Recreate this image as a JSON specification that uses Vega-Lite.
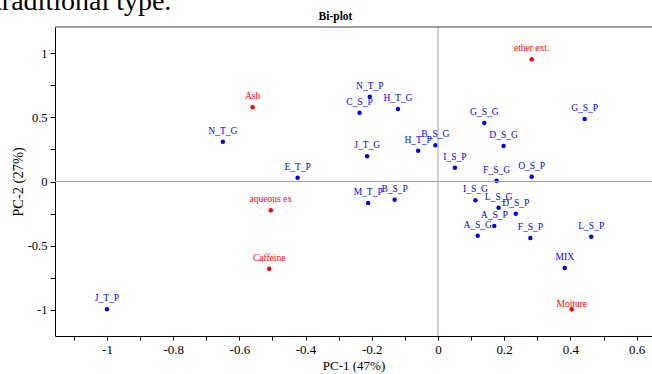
{
  "$schema": "https://vega.github.io/schema/vega-lite/v6.json",
  "autosize": {"type": "none"},
  "padding": {"left": 55, "top": 27, "right": 0, "bottom": 38},
  "width": 597,
  "height": 309,
  "background": "white",
  "config": {
    "view": {"stroke": null},
    "font": "Liberation Serif"
  },
  "title": {
    "text": "Bi-plot",
    "font": "Liberation Serif",
    "fontSize": 11.5,
    "fontWeight": "bold",
    "color": "black",
    "anchor": "middle",
    "dx": -18,
    "offset": -35
  },
  "data": {
    "values": [
      {"name": "ether ext.", "type": "variable", "pc1": 0.283, "pc2": 0.955},
      {"name": "Ash", "type": "variable", "pc1": -0.56, "pc2": 0.58},
      {"name": "aqueous ex", "type": "variable", "pc1": -0.505, "pc2": -0.225},
      {"name": "Caffeine", "type": "variable", "pc1": -0.51, "pc2": -0.681},
      {"name": "Moiture", "type": "variable", "pc1": 0.404, "pc2": -0.998},
      {"name": "J_T_P", "type": "sample", "pc1": -1.0, "pc2": -0.998},
      {"name": "N_T_G", "type": "sample", "pc1": -0.65, "pc2": 0.311},
      {"name": "E_T_P", "type": "sample", "pc1": -0.424, "pc2": 0.03},
      {"name": "N_T_P", "type": "sample", "pc1": -0.206, "pc2": 0.662},
      {"name": "C_S_P", "type": "sample", "pc1": -0.237, "pc2": 0.537},
      {"name": "H_T_G", "type": "sample", "pc1": -0.121, "pc2": 0.566},
      {"name": "J_T_G", "type": "sample", "pc1": -0.214, "pc2": 0.197},
      {"name": "H_T_P", "type": "sample", "pc1": -0.06, "pc2": 0.241},
      {"name": "B_S_G", "type": "sample", "pc1": -0.008, "pc2": 0.283},
      {"name": "M_T_P", "type": "sample", "pc1": -0.211, "pc2": -0.168},
      {"name": "B_S_P", "type": "sample", "pc1": -0.131, "pc2": -0.142},
      {"name": "G_S_G", "type": "sample", "pc1": 0.14, "pc2": 0.457},
      {"name": "G_S_P", "type": "sample", "pc1": 0.443, "pc2": 0.488},
      {"name": "D_S_G", "type": "sample", "pc1": 0.198, "pc2": 0.277},
      {"name": "I_S_P", "type": "sample", "pc1": 0.051, "pc2": 0.108},
      {"name": "F_S_G", "type": "sample", "pc1": 0.177, "pc2": 0.006},
      {"name": "O_S_P", "type": "sample", "pc1": 0.283, "pc2": 0.037},
      {"name": "I_S_G", "type": "sample", "pc1": 0.113, "pc2": -0.147},
      {"name": "L_S_G", "type": "sample", "pc1": 0.183, "pc2": -0.205},
      {"name": "D_S_P", "type": "sample", "pc1": 0.235, "pc2": -0.252},
      {"name": "A_S_P", "type": "sample", "pc1": 0.17, "pc2": -0.348},
      {"name": "A_S_G", "type": "sample", "pc1": 0.12, "pc2": -0.423},
      {"name": "F_S_P", "type": "sample", "pc1": 0.279, "pc2": -0.441},
      {"name": "L_S_P", "type": "sample", "pc1": 0.463, "pc2": -0.431},
      {"name": "MIX", "type": "sample", "pc1": 0.383, "pc2": -0.676}
    ]
  },
  "layer": [
    {
      "mark": {"type": "circle", "size": 20, "opacity": 1},
      "encoding": {
        "x": {
          "field": "pc1", "type": "quantitative",
          "scale": {"domain": [-1.157, 0.6465], "nice": false, "zero": false},
          "axis": {
            "title": "PC-1 (47%)",
            "values": [-1.1, -1, -0.9, -0.8, -0.7, -0.6, -0.5, -0.4, -0.3, -0.2, -0.1, 0, 0.1, 0.2, 0.3, 0.4, 0.5, 0.6],
            "tickCount": 40,
            "labelExpr": "abs(round(datum.value*10))%2==0 ? ''+datum.value : ''",
            "grid": false,
            "domainColor": "black",
            "tickColor": "black",
            "tickSize": 4,
            "labelPadding": 3,
            "labelFont": "Liberation Serif",
            "labelFontSize": 13,
            "labelColor": "black",
            "labelFlush": false,
            "labelOverlap": false,
            "titleFont": "Liberation Serif",
            "titleFontSize": 13,
            "titleFontWeight": "normal",
            "titleColor": "black",
            "titlePadding": 3
          }
        },
        "y": {
          "field": "pc2", "type": "quantitative",
          "scale": {"domain": [-1.207, 1.207], "nice": false, "zero": false},
          "axis": {
            "title": "PC-2 (27%)",
            "values": [-1, -0.75, -0.5, -0.25, 0, 0.25, 0.5, 0.75, 1],
            "tickCount": 40,
            "labelExpr": "abs(round(datum.value*4))%2==0 ? ''+datum.value : ''",
            "grid": false,
            "domainColor": "black",
            "tickColor": "black",
            "tickSize": 5,
            "labelPadding": 3,
            "labelFont": "Liberation Serif",
            "labelFontSize": 12.5,
            "labelColor": "black",
            "labelFlush": false,
            "labelOverlap": false,
            "titleFont": "Liberation Serif",
            "titleFontSize": 14.5,
            "titleFontWeight": "normal",
            "titleColor": "black",
            "titlePadding": 2
          }
        },
        "color": {
          "field": "type", "type": "nominal",
          "scale": {"domain": ["variable", "sample"], "range": ["#ff0000", "#0000ff"]},
          "legend": null
        }
      }
    },
    {
      "data": {"values": [{"z": 0}]},
      "mark": {"type": "rule", "color": "#a0a0a0", "strokeWidth": 1},
      "encoding": {"x": {"field": "z", "type": "quantitative"}}
    },
    {
      "data": {"values": [{"z": 0}]},
      "mark": {"type": "rule", "color": "#a0a0a0", "strokeWidth": 1},
      "encoding": {"y": {"field": "z", "type": "quantitative"}}
    },
    {
      "data": {"values": [{"z": 1.207}]},
      "mark": {"type": "rule", "color": "#444444", "strokeWidth": 1},
      "encoding": {"y": {"field": "z", "type": "quantitative"}}
    },
    {
      "transform": [{"filter": "datum.name != 'Moiture'"}],
      "mark": {"type": "text", "font": "Liberation Serif", "fontSize": 9.5, "baseline": "alphabetic", "align": "center", "dy": -8},
      "encoding": {
        "x": {"field": "pc1", "type": "quantitative"},
        "y": {"field": "pc2", "type": "quantitative"},
        "text": {"field": "name"},
        "color": {"field": "type", "type": "nominal", "legend": null}
      }
    },
    {
      "transform": [{"filter": "datum.name == 'Moiture'"}],
      "mark": {"type": "text", "font": "Liberation Serif", "fontSize": 9.5, "baseline": "alphabetic", "align": "center", "dy": -2},
      "encoding": {
        "x": {"field": "pc1", "type": "quantitative"},
        "y": {"field": "pc2", "type": "quantitative"},
        "text": {"field": "name"},
        "color": {"field": "type", "type": "nominal", "legend": null}
      }
    },
    {
      "data": {"values": [{"t": "traditional type.", "px": -1.341, "py": 1.34}]},
      "mark": {"type": "text", "font": "Liberation Serif", "fontSize": 28, "baseline": "alphabetic", "align": "left", "color": "black", "clip": false},
      "encoding": {
        "x": {"field": "px", "type": "quantitative"},
        "y": {"field": "py", "type": "quantitative"},
        "text": {"field": "t"}
      }
    }
  ]
}
